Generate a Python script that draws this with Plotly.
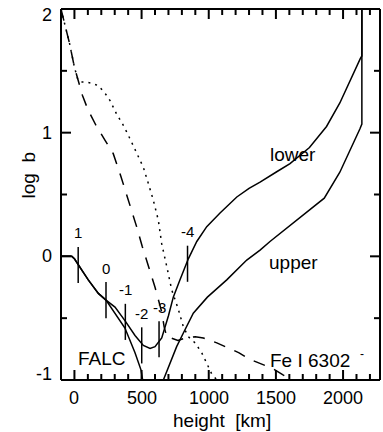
import plotly.graph_objects as go

# ---------------- data ----------------
lower_h = [-100, -20, 0, 28, 60, 103, 178, 235, 302, 376, 451, 513, 563, 600, 632, 650,
           700, 736, 786, 848, 911, 985, 1084, 1209, 1300, 1382, 1500, 1605, 1750, 1877,
           1976, 2050, 2129, 2140, 2140]
lower_b = [0.0, 0.0, -0.02, -0.07, -0.12, -0.19, -0.30, -0.354, -0.41, -0.52, -0.64, -0.72,
           -0.745, -0.73, -0.69, -0.66, -0.48, -0.33, -0.19, -0.02, 0.12, 0.24, 0.35, 0.48,
           0.55, 0.60, 0.68, 0.75, 0.88, 1.05, 1.24, 1.42, 1.60, 1.62, 2.0]

upper_h = [-100, -20, 0, 28, 60, 103, 178, 235, 302, 376, 451, 496, 508, None,
           662, 712, 761, 811, 885, 990, 1134, 1283, 1382, 1456, 1560, 1656, 1760, 1860,
           1976, 2060, 2125, 2140, 2140]
upper_b = [0.0, 0.0, -0.02, -0.07, -0.12, -0.19, -0.30, -0.354, -0.46, -0.58, -0.78, -0.92,
           -1.0, None, -1.0, -0.87, -0.73, -0.62, -0.46, -0.33, -0.19, -0.03, 0.05, 0.12,
           0.21, 0.29, 0.38, 0.47, 0.68, 0.87, 1.03, 1.07, 2.0]

dash_h = [-100, -36, 0, 25, 60, 103, 160, 227, 289, 345, 414, 463, 505, 550, 600, 650,
          668, 690, 720, 770, 830, 900, 960, 1060, 1146, 1226, 1300, 1395, 1481, 1556, 1620]
dash_b = [2.0, 1.72, 1.53, 1.43, 1.30, 1.18, 1.06, 0.94, 0.83, 0.65, 0.42, 0.24, 0.08,
          -0.08, -0.25, -0.45, -0.57, -0.66, -0.66, -0.68, -0.66, -0.65, -0.66, -0.70,
          -0.74, -0.78, -0.83, -0.87, -0.91, -0.96, -1.0]

dot_h = [-100, -36, 0, 25, 48, 78, 128, 178, 227, 265, 314, 364, 414, 463, 513, 550, 587,
         625, 650, 687, 724, 774, 811, 848, 898, 948, 985, 1022, 1060]
dot_b = [2.0, 1.72, 1.53, 1.43, 1.41, 1.41, 1.40, 1.38, 1.32, 1.26, 1.15, 1.06, 0.95, 0.83,
         0.72, 0.59, 0.455, 0.29, 0.10, -0.08, -0.27, -0.43, -0.57, -0.65, -0.70, -0.78,
         -0.87, -0.95, -1.0]

tau_h = [28, 235, 379, 501, 630, 842]
tau_b = [-0.07, -0.354, -0.53, -0.72, -0.67, -0.06]
tau_labels = ["1", "0", "-1", "-2", "-3", "-4"]

x_range = [-100, 2275]
y_range = [-1, 2]
x_tickvals = [0, 500, 1000, 1500, 2000]
x_ticktext = ["0", "500", "1000", "1500", "2000"]
x_minor_step = 100
y_tickvals = [-1, 0, 1, 2]
y_ticktext = ["-1", "0", "1", "2"]
y_minor_step = 0.5

# ---------------- geometry / style ----------------
FONT = "Liberation Sans, Arial, Helvetica, sans-serif"
LW = 1.5
AXW = 2
W, H = 383, 432
ML, MR, MT, MB = 61, 3, 9, 52
kx = (x_range[1] - x_range[0]) / (W - ML - MR)   # km per pixel
ky = (y_range[1] - y_range[0]) / (H - MT - MB)   # log b per pixel
MAJ, MIN = 10, 6                                 # tick lengths in px
y_label_shift = [6, 0, 0, -6]                    # IDL-like end-label nudges

fig = go.Figure()

fig.add_trace(go.Scatter(x=lower_h, y=lower_b, mode="lines",
                         line=dict(color="black", width=LW), connectgaps=False))
fig.add_trace(go.Scatter(x=upper_h, y=upper_b, mode="lines",
                         line=dict(color="black", width=LW), connectgaps=False))
fig.add_trace(go.Scatter(x=dash_h, y=dash_b, mode="lines",
                         line=dict(color="black", width=LW, dash="12px,10px")))
fig.add_trace(go.Scatter(x=dot_h, y=dot_b, mode="lines",
                         line=dict(color="black", width=LW, dash="2px,5px")))

# optical-depth markers on the FALC curve
half = 0.146
tx, ty = [], []
for h, b in zip(tau_h, tau_b):
    tx += [h, h, None]
    ty += [b - half, b + half, None]
fig.add_trace(go.Scatter(x=tx, y=ty, mode="lines", line=dict(color="black", width=LW)))

# inward ticks on all four sides, drawn as separate small segment traces
def seg(x0, y0, x1, y1):
    fig.add_trace(go.Scatter(x=[x0, x1], y=[y0, y1], mode="lines", hoverinfo="skip",
                             line=dict(color="black", width=AXW)))

xm = x_tickvals[0]
while xm - x_minor_step > x_range[0]:
    xm -= x_minor_step
while xm < x_range[1]:
    ln = MAJ if xm in x_tickvals else MIN
    seg(xm, y_range[0], xm, y_range[0] + ln * ky)
    seg(xm, y_range[1], xm, y_range[1] - ln * ky)
    xm += x_minor_step
ym = y_range[0] + y_minor_step
while ym < y_range[1] - 1e-9:
    ln = MAJ if any(abs(ym - t) < 1e-9 for t in y_tickvals) else MIN
    seg(x_range[0], ym, x_range[0] + ln * kx, ym)
    seg(x_range[1], ym, x_range[1] - ln * kx, ym)
    ym += y_minor_step

ann = []
for h, b, lab in zip(tau_h, tau_b, tau_labels):
    ann.append(dict(x=h, y=b, xref="x", yref="y", text=lab, showarrow=False,
                    yshift=32, font=dict(size=15, color="black", family=FONT)))

for text, x, y in [("lower", 1626, 0.82), ("upper", 1634, -0.05),
                   ("FALC", 203, -0.825), ("Fe I 6302", 1755, -0.84)]:
    ann.append(dict(x=x, y=y, xref="x", yref="y", text=text, showarrow=False,
                    font=dict(size=19, color="black", family=FONT)))
ann.append(dict(x=2140, y=-0.79, xref="x", yref="y", text="-", showarrow=False,
                font=dict(size=12, color="black", family=FONT)))

for val, lab in zip(x_tickvals, x_ticktext):
    ann.append(dict(x=val, y=y_range[0], xref="x", yref="y", text=lab, showarrow=False,
                    yanchor="middle", yshift=-18,
                    font=dict(size=18, color="black", family=FONT)))
for val, lab, sh in zip(y_tickvals, y_ticktext, y_label_shift):
    ann.append(dict(x=x_range[0], y=val, xref="x", yref="y", text=lab, showarrow=False,
                    xanchor="right", xshift=-7, yshift=sh,
                    font=dict(size=18, color="black", family=FONT)))

ann.append(dict(x=0.505, y=y_range[0], xref="paper", yref="y", text="height\u00a0 [km]",
                showarrow=False, yanchor="middle", yshift=-40,
                font=dict(size=19, color="black", family=FONT)))
ann.append(dict(x=-0.141, y=0.55, xref="paper", yref="paper", text="log\u00a0 b",
                textangle=-90, showarrow=False,
                font=dict(size=19, color="black", family=FONT)))

frame = []
for x0, y0, x1, y1 in [(0, 0, 1, 0), (0, 1, 1, 1), (0, 0, 0, 1), (1, 0, 1, 1)]:
    frame.append(dict(type="line", xref="paper", yref="paper", x0=x0, y0=y0, x1=x1, y1=y1,
                      line=dict(color="black", width=AXW), layer="above"))

hidden = dict(showgrid=False, zeroline=False, showline=False, ticks="",
              showticklabels=False, automargin=False)

fig.update_layout(
    width=W, height=H,
    margin=dict(l=ML, r=MR, t=MT, b=MB, autoexpand=False),
    paper_bgcolor="white", plot_bgcolor="white",
    showlegend=False,
    font=dict(family=FONT, size=18, color="black"),
    annotations=ann,
    shapes=frame,
    xaxis=dict(range=x_range, **hidden),
    yaxis=dict(range=y_range, **hidden),
)

fig.write_html("out.html", config={"displayModeBar": False},
               post_script="document.body.style.margin='0';"
                           "document.body.style.overflow='hidden';")
